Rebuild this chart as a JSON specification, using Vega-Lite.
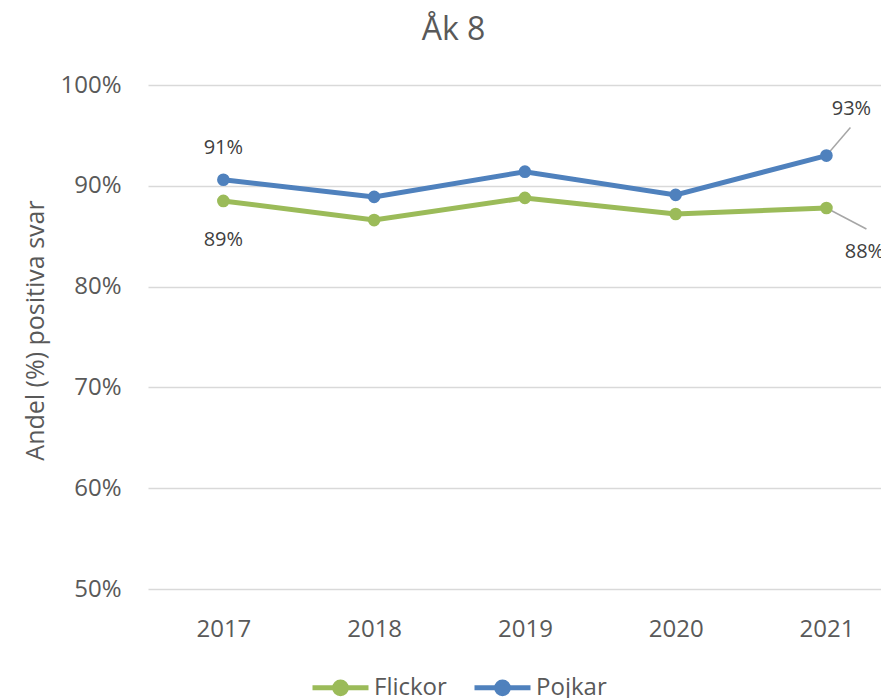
{
  "$schema": "https://vega.github.io/schema/vega-lite/v6.json",
  "width": 733,
  "height": 504,
  "autosize": "none",
  "padding": {"left": 148, "top": 85, "right": 0, "bottom": 109},
  "background": "white",
  "config": {
    "font": "Open Sans",
    "view": {"stroke": null},
    "text": {"font": "Open Sans", "color": "#404040"}
  },
  "title": {
    "text": "Åk 8",
    "fontSize": 32,
    "fontWeight": "normal",
    "color": "#595959",
    "font": "Open Sans",
    "anchor": "middle",
    "dx": -61,
    "offset": 26
  },
  "data": {
    "values": [
      {"year": "2017", "group": "Flickor", "value": 0.885, "label": "89%"},
      {"year": "2018", "group": "Flickor", "value": 0.866, "label": ""},
      {"year": "2019", "group": "Flickor", "value": 0.888, "label": ""},
      {"year": "2020", "group": "Flickor", "value": 0.872, "label": ""},
      {"year": "2021", "group": "Flickor", "value": 0.878, "label": "88%"},
      {"year": "2017", "group": "Pojkar", "value": 0.906, "label": "91%"},
      {"year": "2018", "group": "Pojkar", "value": 0.889, "label": ""},
      {"year": "2019", "group": "Pojkar", "value": 0.914, "label": ""},
      {"year": "2020", "group": "Pojkar", "value": 0.891, "label": ""},
      {"year": "2021", "group": "Pojkar", "value": 0.930, "label": "93%"}
    ]
  },
  "encoding": {
    "x": {
      "field": "year",
      "type": "ordinal",
      "scale": {"type": "point", "padding": 0.431, "align": 0.58},
      "axis": {
        "title": null,
        "labelAngle": 0,
        "labelFontSize": 24,
        "labelColor": "#595959",
        "labelFont": "Open Sans",
        "ticks": false,
        "domain": false,
        "labelPadding": 28
      }
    },
    "y": {
      "field": "value",
      "type": "quantitative",
      "scale": {"domain": [0.5, 1], "nice": false},
      "axis": {
        "values": [0.5, 0.6, 0.7, 0.8, 0.9, 1.0],
        "format": ".0%",
        "title": "Andel (%) positiva svar",
        "titleFontSize": 25,
        "titleFontWeight": "normal",
        "titleColor": "#595959",
        "titleFont": "Open Sans",
        "titleX": -113,
        "titleY": 245,
        "titleAngle": -90,
        "titleBaseline": "middle",
        "titleAlign": "center",
        "labelFontSize": 24,
        "labelColor": "#595959",
        "labelFont": "Open Sans",
        "labelPadding": 27,
        "ticks": false,
        "domain": false,
        "grid": true,
        "gridColor": "#d9d9d9",
        "gridWidth": 1.5
      }
    }
  },
  "layer": [
    {
      "transform": [{"filter": "datum.year == '2021' && datum.group == 'Pojkar'"}],
      "mark": {"type": "rule", "color": "#a6a6a6", "strokeWidth": 1.5, "x2Offset": 24, "y2Offset": -28},
      "encoding": {"x2": {"field": "year"}, "y2": {"field": "value"}}
    },
    {
      "transform": [{"filter": "datum.year == '2021' && datum.group == 'Flickor'"}],
      "mark": {"type": "rule", "color": "#a6a6a6", "strokeWidth": 1.5, "x2Offset": 40, "y2Offset": 21},
      "encoding": {"x2": {"field": "year"}, "y2": {"field": "value"}}
    },
    {
      "mark": {"type": "line", "strokeWidth": 5, "point": {"filled": true, "size": 160, "opacity": 1}},
      "encoding": {
        "color": {
          "field": "group",
          "type": "nominal",
          "scale": {"domain": ["Flickor", "Pojkar"], "range": ["#9bbb59", "#4f81bd"]},
          "legend": {
            "title": null,
            "orient": "none",
            "direction": "horizontal",
            "legendX": 162,
            "legendY": 572,
            "symbolType": "M-1,0H1M-0.21,0A0.21,0.21,0,1,1,0.21,0A0.21,0.21,0,1,1,-0.21,0Z",
            "symbolSize": 3136,
            "symbolStrokeWidth": 5,
            "labelFontSize": 24,
            "labelColor": "#595959",
            "labelFont": "Open Sans",
            "labelOffset": 3,
            "columnPadding": 17,
            "encode": {
              "symbols": {
                "update": {
                  "fill": {"scale": "color", "field": "value"},
                  "stroke": {"scale": "color", "field": "value"},
                  "opacity": {"value": 1}
                }
              }
            }
          }
        }
      }
    },
    {
      "transform": [{"filter": "datum.year == '2017' && datum.group == 'Pojkar'"}],
      "mark": {"type": "text", "fontSize": 20, "dy": -32, "baseline": "middle", "align": "center"},
      "encoding": {"text": {"field": "label"}}
    },
    {
      "transform": [{"filter": "datum.year == '2017' && datum.group == 'Flickor'"}],
      "mark": {"type": "text", "fontSize": 20, "dy": 39, "baseline": "middle", "align": "center"},
      "encoding": {"text": {"field": "label"}}
    },
    {
      "transform": [{"filter": "datum.year == '2021' && datum.group == 'Pojkar'"}],
      "mark": {"type": "text", "fontSize": 20, "dx": 25, "dy": -47, "baseline": "middle", "align": "center"},
      "encoding": {"text": {"field": "label"}}
    },
    {
      "transform": [{"filter": "datum.year == '2021' && datum.group == 'Flickor'"}],
      "mark": {"type": "text", "fontSize": 20, "dx": 38, "dy": 44, "baseline": "middle", "align": "center"},
      "encoding": {"text": {"field": "label"}}
    }
  ]
}
